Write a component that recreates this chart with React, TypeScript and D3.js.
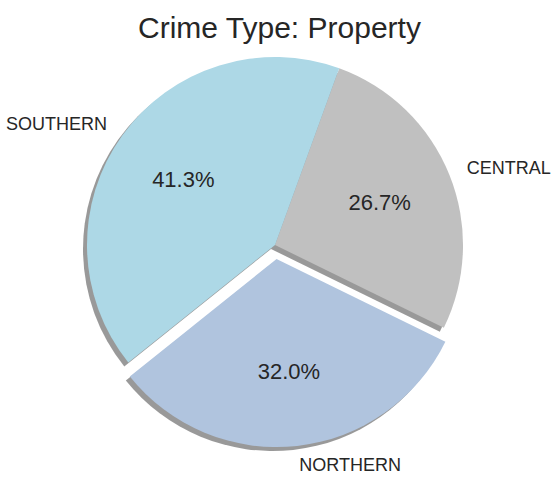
import * as d3 from "d3";

const labels = ["CENTRAL", "SOUTHERN", "NORTHERN"];
const values = [26.7, 41.3, 32.0];
const colors = ["#C0C0C0", "#ADD8E6", "#B0C4DE"];
const explode = [0, 0, 0.075];
const startAngle = -26.1; // degrees, counterclockwise from 3 o'clock

const W = 557, H = 481;
const cx = 275, cy = 245, R = 188;

export default function App() {
  const total = d3.sum(values);
  let acc = startAngle;
  const slices = values.map((v, i) => {
    const a0 = acc;
    const a1 = acc + (v / total) * 360;
    acc = a1;
    const mid = ((a0 + a1) / 2) * Math.PI / 180;
    const ox = explode[i] * R * Math.cos(mid);
    const oy = -explode[i] * R * Math.sin(mid);
    // d3 angles: clockwise from 12 o'clock
    const path = d3.arc()({
      innerRadius: 0,
      outerRadius: R,
      startAngle: (90 - a1) * Math.PI / 180,
      endAngle: (90 - a0) * Math.PI / 180,
    })!;
    return { i, v, mid, ox, oy, path };
  });
  const font = "'Liberation Sans', Arial, sans-serif";
  return (
    <svg width={W} height={H} style={{ position: "absolute", left: 0, top: 0 }}>
      <rect width={W} height={H} fill="#fff" />
      <text x={W / 2 + 1} y={38} textAnchor="middle" fontSize={30} fill="#262626" fontFamily={font}>
        Crime Type: Property
      </text>
      {slices.map((s) => (
        <path key={"sh" + s.i} d={s.path} transform={`translate(${cx + s.ox - 4},${cy + s.oy + 4})`} fill="#000" fillOpacity={0.4} />
      ))}
      {slices.map((s) => (
        <path key={s.i} d={s.path} transform={`translate(${cx + s.ox},${cy + s.oy})`} fill={colors[s.i]} />
      ))}
      {slices.map((s) => {
        const lx = cx + s.ox + 1.1 * R * Math.cos(s.mid);
        const ly = cy + s.oy - 1.1 * R * Math.sin(s.mid);
        const px = cx + s.ox + 0.6 * R * Math.cos(s.mid);
        const py = cy + s.oy - 0.6 * R * Math.sin(s.mid);
        return (
          <g key={"t" + s.i} fontFamily={font} fill="#262626">
            <text x={lx} y={ly} fontSize={18} dominantBaseline="central"
              textAnchor={Math.cos(s.mid) >= 0 ? "start" : "end"}>{labels[s.i]}</text>
            <text x={px} y={py} fontSize={22} dominantBaseline="central" textAnchor="middle">
              {s.v.toFixed(1)}%
            </text>
          </g>
        );
      })}
    </svg>
  );
}
